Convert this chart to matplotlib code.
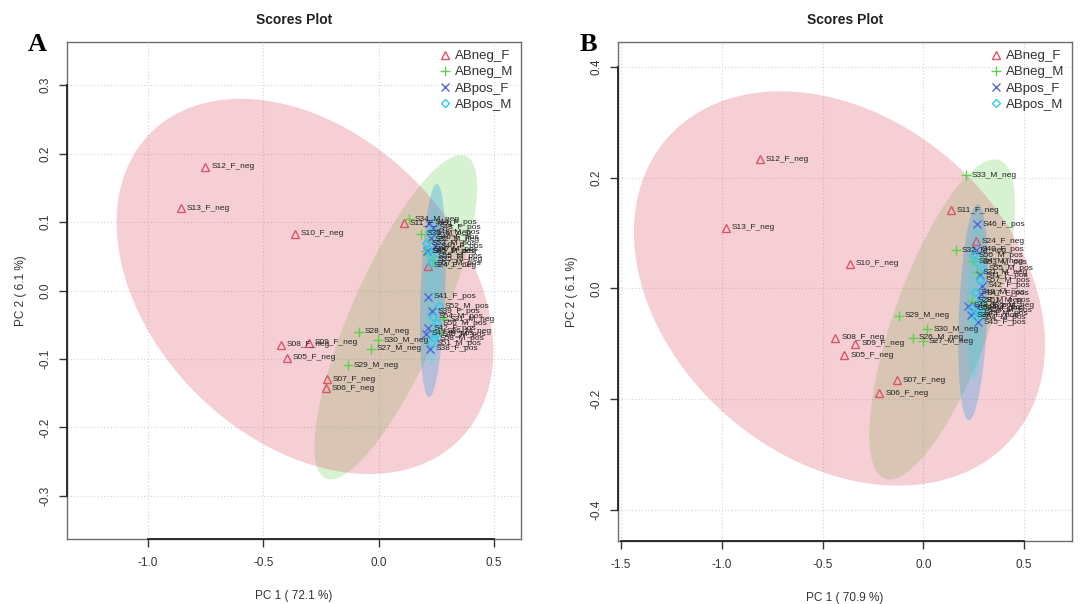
import numpy as np
import matplotlib
matplotlib.use("Agg")
import matplotlib.pyplot as plt
from matplotlib.patches import Ellipse
from matplotlib.lines import Line2D

# ---------------- data ----------------
groups = ["ABneg_F", "ABneg_M", "ABpos_F", "ABpos_M"]

# Panel A: PCA scores
a_negF_x = [-0.752, -0.857, -0.365, -0.426, -0.304, -0.400, -0.226, -0.230, 0.109, 0.213]
a_negF_y = [0.181, 0.120, 0.083, -0.079, -0.076, -0.098, -0.130, -0.143, 0.098, 0.036]
a_negF_lab = ["S12_F_neg", "S13_F_neg", "S10_F_neg", "S08_F_neg", "S09_F_neg",
              "S05_F_neg", "S07_F_neg", "S06_F_neg", "S11_F_neg", "S24_F_neg"]

a_negM_x = [-0.087, -0.135, -0.004, -0.035, 0.130, 0.217, 0.183, 0.204, 0.283, 0.230, 0.270]
a_negM_y = [-0.060, -0.109, -0.073, -0.085, 0.104, 0.074, 0.083, 0.057, -0.042, 0.045, -0.060]
a_negM_lab = ["S28_M_neg", "S29_M_neg", "S30_M_neg", "S27_M_neg", "S34_M_neg",
              "S32_M_neg", "S33_M_neg", "S25_M_neg", "S31_M_neg", "S35_M_neg", "S36_M_neg"]

a_posF_x = [0.217, 0.235, 0.226, 0.209, 0.213, 0.213, 0.204, 0.245, 0.230, 0.222]
a_posF_y = [0.099, 0.092, 0.077, 0.057, -0.009, -0.055, -0.063, 0.065, -0.030, -0.085]
a_posF_lab = ["S44_F_pos", "S43_F_pos", "S46_F_pos", "S45_F_pos", "S41_F_pos",
              "S42_F_pos", "S47_F_pos", "S40_F_pos", "S39_F_pos", "S38_F_pos"]

a_posM_x = [0.213, 0.204, 0.230, 0.222, 0.261, 0.248, 0.226, 0.235, 0.252, 0.226, 0.240]
a_posM_y = [0.060, 0.069, 0.050, 0.085, -0.023, -0.064, -0.077, -0.038, -0.048, 0.040, -0.070]
a_posM_lab = ["S50_M_pos", "S53_M_pos", "S55_M_pos", "S48_M_pos", "S52_M_pos",
              "S49_M_pos", "S51_M_pos", "S54_M_pos", "S56_M_pos", "S57_M_pos", "S58_M_pos"]

# 95% confidence regions: centre x, centre y, half-extent x, half-extent y, correlation
a_ell_cx = [-0.320, 0.074, 0.235, 0.236]
a_ell_cy = [0.006, -0.039, 0.000, 0.005]
a_ell_hx = [0.817, 0.353, 0.056, 0.033]
a_ell_hy = [0.274, 0.237, 0.156, 0.115]
a_ell_r = [-0.341, 0.800, 0.300, 0.200]

# Panel B: PCA scores
b_negF_x = [-0.812, -0.980, -0.366, -0.436, -0.337, -0.391, -0.129, -0.218, 0.139, 0.262]
b_negF_y = [0.233, 0.110, 0.045, -0.089, -0.100, -0.121, -0.166, -0.189, 0.141, 0.085]
b_negF_lab = ["S12_F_neg", "S13_F_neg", "S10_F_neg", "S08_F_neg", "S09_F_neg",
              "S05_F_neg", "S07_F_neg", "S06_F_neg", "S11_F_neg", "S24_F_neg"]

b_negM_x = [0.213, 0.163, 0.248, 0.267, -0.119, 0.020, -0.050, 0.000, 0.243, 0.300]
b_negM_y = [0.204, 0.069, 0.049, 0.029, -0.049, -0.074, -0.089, -0.095, -0.022, -0.030]
b_negM_lab = ["S33_M_neg", "S32_M_neg", "S34_M_neg", "S31_M_neg", "S29_M_neg",
              "S30_M_neg", "S26_M_neg", "S27_M_neg", "S28_M_neg", "S36_M_neg"]

b_posF_x = [0.267, 0.282, 0.292, 0.287, 0.223, 0.267, 0.272, 0.262, 0.235]
b_posF_y = [0.116, 0.024, 0.005, -0.010, -0.031, -0.034, -0.061, 0.070, -0.048]
b_posF_lab = ["S46_F_pos", "S41_F_pos", "S42_F_pos", "S47_F_pos", "S43_F_pos",
              "S44_F_pos", "S45_F_pos", "S40_F_pos", "S39_F_pos"]

b_posM_x = [0.248, 0.267, 0.297, 0.257, 0.243, 0.272, 0.282, 0.262, 0.280, 0.290]
b_posM_y = [0.060, 0.047, 0.036, -0.007, -0.036, -0.045, -0.022, -0.052, 0.015, -0.040]
b_posM_lab = ["S50_M_pos", "S53_M_pos", "S55_M_pos", "S48_M_pos", "S52_M_pos",
              "S49_M_pos", "S51_M_pos", "S54_M_pos", "S57_M_pos", "S58_M_pos"]

b_ell_cx = [-0.416, 0.094, 0.248, 0.260]
b_ell_cy = [0.000, -0.056, -0.043, -0.020]
b_ell_hx = [1.020, 0.362, 0.074, 0.042]
b_ell_hy = [0.356, 0.289, 0.195, 0.145]
b_ell_r = [-0.286, 0.718, 0.300, 0.200]

# ---------------- style ----------------
mark_cols = ["#DF536B", "#61D04F", "#5468D8", "#33C9EE"]
fill_cols = ["#DF536B", "#61D04F", "#2297E6", "#28E2E5"]
fill_alpha = [0.28, 0.26, 0.30, 0.22]
markers = ["^", "+", "x", "D"]
msizes = [5.5, 6.5, 5.5, 4.5]
draw_order = [1, 0, 2, 3]

plt.rcParams["font.family"] = ["Liberation Sans", "DejaVu Sans"]
fig = plt.figure(figsize=(10.87, 6.04), dpi=100)

W, H = 1087.0, 604.0


def add_axes(left_px, top_px, w_px, h_px):
    return fig.add_axes([left_px / W, 1 - (top_px + h_px) / H, w_px / W, h_px / H])


def ellipse(ax, cx, cy, hx, hy, r, color, alpha):
    cov = np.array([[hx ** 2, r * hx * hy], [r * hx * hy, hy ** 2]])
    vals, vecs = np.linalg.eigh(cov)
    order = vals.argsort()[::-1]
    vals, vecs = vals[order], vecs[:, order]
    ang = np.degrees(np.arctan2(vecs[1, 0], vecs[0, 0]))
    e = Ellipse((cx, cy), 2 * np.sqrt(vals[0]), 2 * np.sqrt(vals[1]), angle=ang,
                facecolor=color, edgecolor="none", alpha=alpha, zorder=1)
    ax.add_patch(e)


def panel(ax, pts, ell, xlim, ylim, xticks, yticks, xlabel, ylabel, letter):
    ax.set_xlim(*xlim)
    ax.set_ylim(*ylim)
    ax.set_xticks(xticks)
    ax.set_yticks(yticks)
    ax.set_xticklabels([f"{v:.1f}" for v in xticks])
    ax.set_yticklabels([f"{v:.1f}" for v in yticks], rotation=90, va="center")
    ax.grid(True, color="#d4d4d4", linestyle=(0, (1, 2)), linewidth=0.8, zorder=0)
    ax.set_axisbelow(True)
    ax.tick_params(direction="out", length=6, width=1, color="#333333",
                   labelsize=8.5, labelcolor="#333333")
    ax.tick_params(axis="x", pad=7)
    ax.tick_params(axis="y", pad=5)
    for s in ax.spines.values():
        s.set_color("#6e6e6e")
        s.set_linewidth(1.0)
    # axis lines between first and last tick
    ax.plot([xticks[0], xticks[-1]], [0, 0], transform=ax.get_xaxis_transform(),
            color="#222222", lw=1.3, clip_on=False, zorder=5)
    ax.plot([0, 0], [yticks[0], yticks[-1]], transform=ax.get_yaxis_transform(),
            color="#222222", lw=1.3, clip_on=False, zorder=5)

    cx, cy, hx, hy, rr = ell
    for g in draw_order:
        ellipse(ax, cx[g], cy[g], hx[g], hy[g], rr[g], fill_cols[g], fill_alpha[g])

    for g, (xs, ys, labs) in enumerate(pts):
        ax.plot(xs, ys, linestyle="none", marker=markers[g], ms=msizes[g],
                mfc="none", mec=mark_cols[g], mew=1.0, zorder=3)
        for x, y, lab in zip(xs, ys, labs):
            ax.annotate(lab, (x, y), xytext=(4.2, 0), textcoords="offset points",
                        fontsize=6.0, color="#222222", va="center", ha="left", zorder=4)

    handles = [Line2D([], [], linestyle="none", marker=markers[g], ms=msizes[g],
                      mfc="none", mec=mark_cols[g], mew=1.0) for g in range(4)]
    ax.legend(handles, groups, loc="upper right", bbox_to_anchor=(1.0, 1.0),
              frameon=False, fontsize=9.5, labelcolor="#333333", handlelength=0.9,
              handletextpad=0.3, labelspacing=0.3, borderaxespad=0.2)

    ax.set_xlabel(xlabel, fontsize=8.5, color="#333333")
    ax.set_ylabel(ylabel, fontsize=8.5, color="#333333")
    ax.xaxis.set_label_coords(0.5, -0.102)
    ax.yaxis.set_label_coords(-0.088, 0.5)
    ax.text(0.5, 1.044, "Scores Plot", transform=ax.transAxes, ha="center", va="center",
            fontsize=10, fontweight="bold", color="#222222")
    ax.text(-0.065, 0.995, letter, transform=ax.transAxes, ha="center", va="center",
            fontsize=19, fontweight="bold", family="Liberation Serif", color="black")


ax_a = add_axes(67, 42, 454, 497)
panel(ax_a,
      [(a_negF_x, a_negF_y, a_negF_lab), (a_negM_x, a_negM_y, a_negM_lab),
       (a_posF_x, a_posF_y, a_posF_lab), (a_posM_x, a_posM_y, a_posM_lab)],
      (a_ell_cx, a_ell_cy, a_ell_hx, a_ell_hy, a_ell_r),
      (-1.352, 0.617), (-0.363, 0.363),
      [-1.0, -0.5, 0.0, 0.5], [-0.3, -0.2, -0.1, 0.0, 0.1, 0.2, 0.3],
      "PC 1 ( 72.1 %)", "PC 2 ( 6.1 %)", "A")

ax_b = add_axes(618, 42, 454, 499)
panel(ax_b,
      [(b_negF_x, b_negF_y, b_negF_lab), (b_negM_x, b_negM_y, b_negM_lab),
       (b_posF_x, b_posF_y, b_posF_lab), (b_posM_x, b_posM_y, b_posM_lab)],
      (b_ell_cx, b_ell_cy, b_ell_hx, b_ell_hy, b_ell_r),
      (-1.515, 0.738), (-0.456, 0.445),
      [-1.5, -1.0, -0.5, 0.0, 0.5], [-0.4, -0.2, 0.0, 0.2, 0.4],
      "PC 1 ( 70.9 %)", "PC 2 ( 6.1 %)", "B")

fig.savefig("out.png", dpi=100, facecolor="white")
